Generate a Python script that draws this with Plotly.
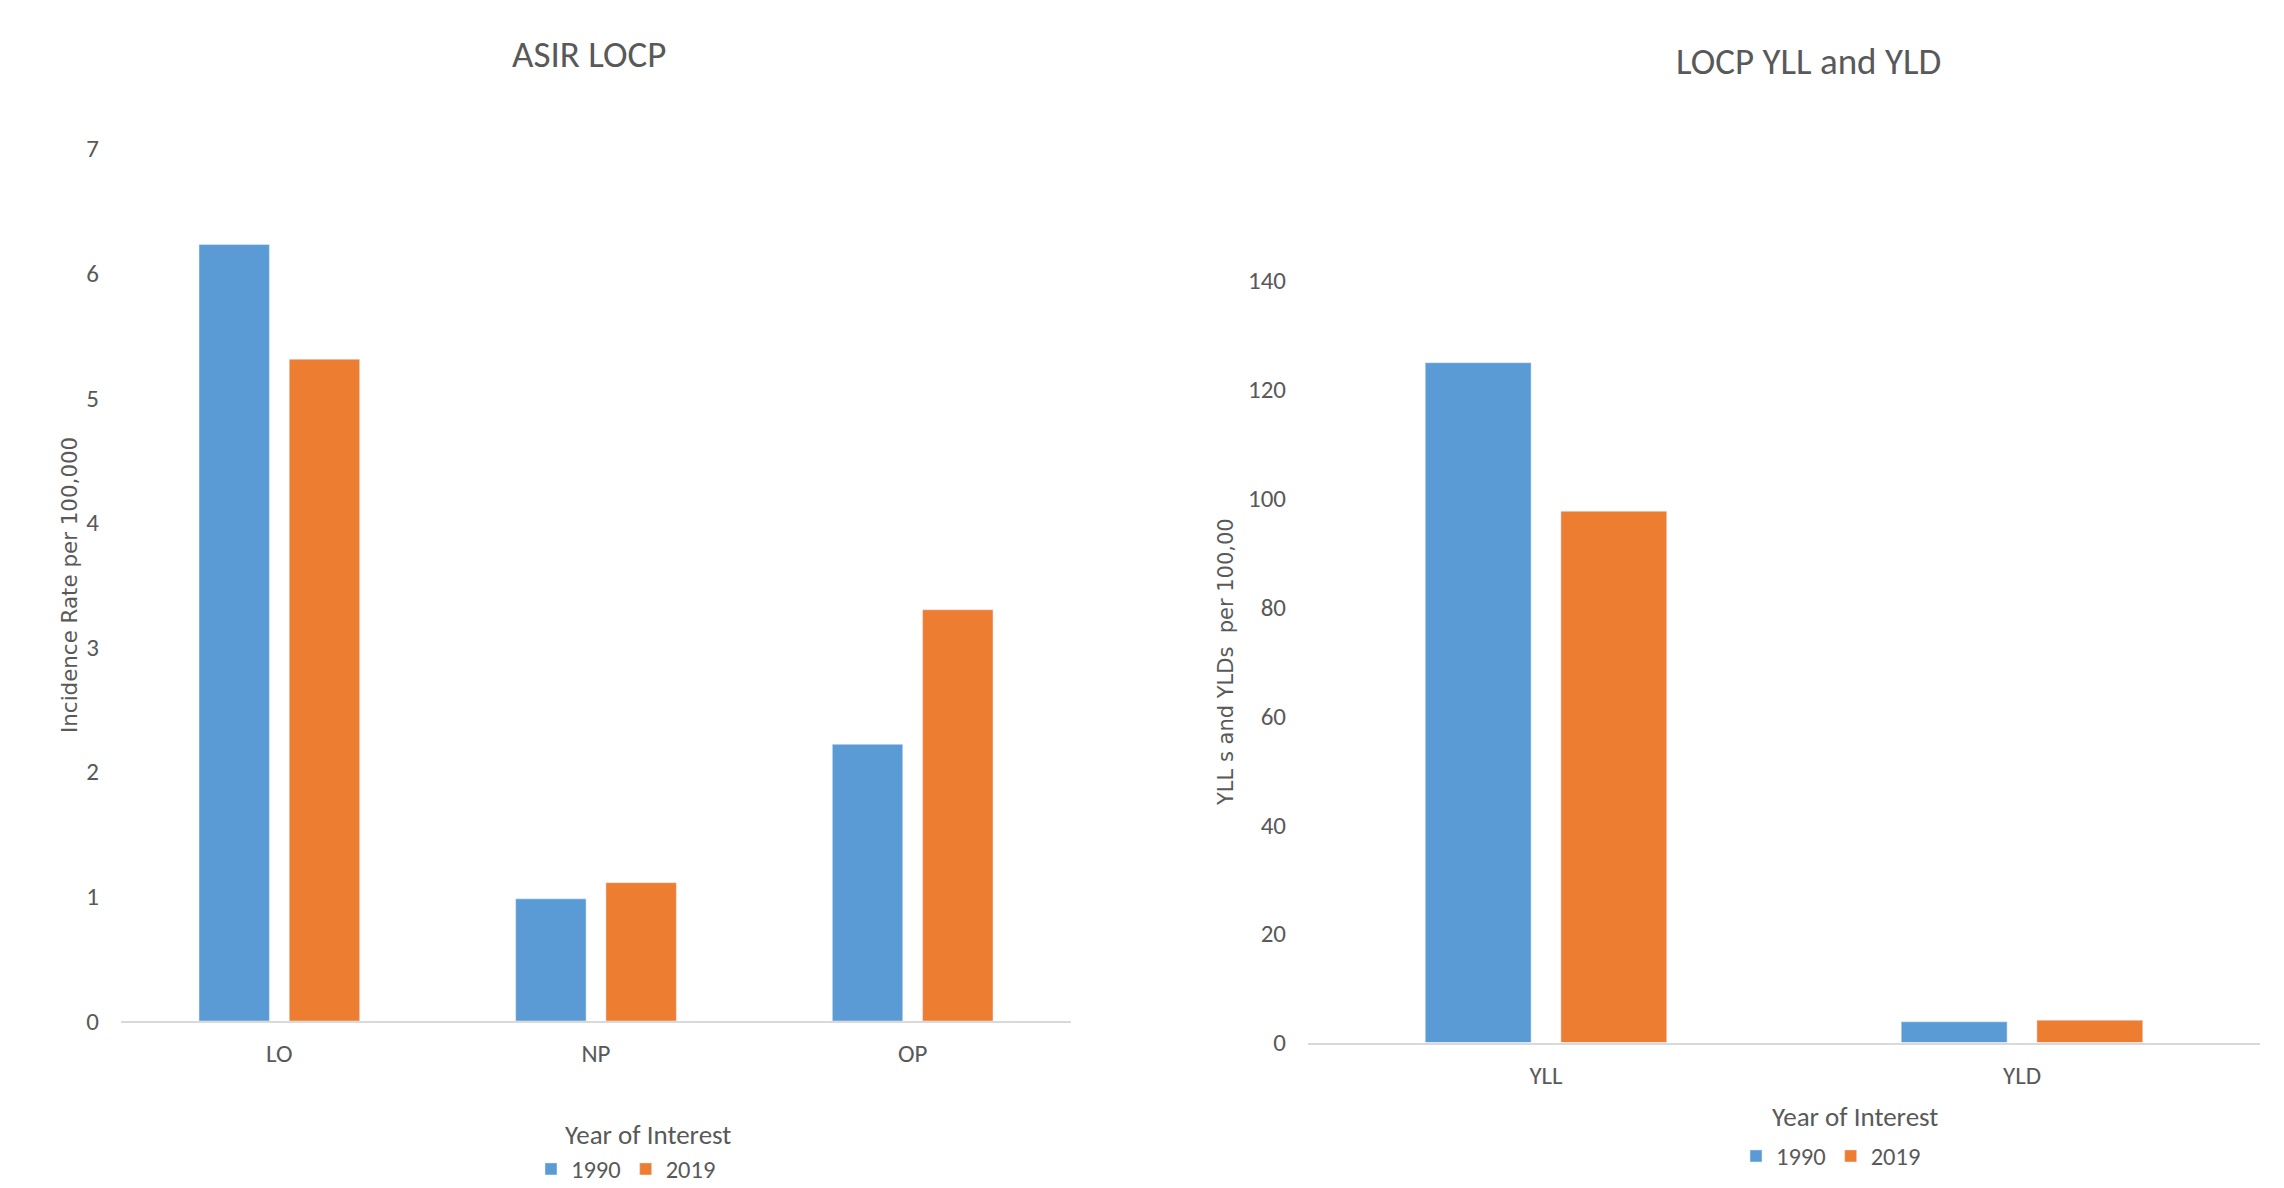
import plotly.graph_objects as go

# ---- data ----
asir_categories = ["LO", "NP", "OP"]
asir_1990 = [6.23, 0.98, 2.22]
asir_2019 = [5.31, 1.11, 3.30]

burden_categories = ["YLL", "YLD"]
burden_1990 = [124.9, 3.8]
burden_2019 = [97.6, 4.1]

series_names = ["1990", "2019"]
asir_ticks = [0, 1, 2, 3, 4, 5, 6, 7]
burden_ticks = [0, 20, 40, 60, 80, 100, 120, 140]

left_title = "ASIR LOCP"
right_title = "LOCP YLL and YLD"
left_ytitle = "Incidence Rate per 100,000"
right_ytitle = "YLL s and YLDs  per 100,00"
xtitle = "Year of Interest"

# ---- styling ----
W, H = 2284, 1188
BLUE = "#5B9BD5"
ORANGE = "#ED7D31"
TEXT = "#595959"
NARROW = "Carlito, DejaVu Sans Condensed, Liberation Sans Narrow, Liberation Sans, sans-serif"
WIDE = "DejaVu Sans, Verdana, sans-serif"


def px(x):
    return x / W


def py(y):
    return 1 - y / H


fig = go.Figure()
fig.add_trace(go.Bar(x=asir_categories, y=asir_1990, name=series_names[0],
                     marker_color=BLUE, xaxis="x", yaxis="y", legend="legend"))
fig.add_trace(go.Bar(x=asir_categories, y=asir_2019, name=series_names[1],
                     marker_color=ORANGE, xaxis="x", yaxis="y", legend="legend"))
fig.add_trace(go.Bar(x=burden_categories, y=burden_1990, name=series_names[0],
                     marker_color=BLUE, xaxis="x2", yaxis="y2", legend="legend2"))
fig.add_trace(go.Bar(x=burden_categories, y=burden_2019, name=series_names[1],
                     marker_color=ORANGE, xaxis="x2", yaxis="y2", legend="legend2"))

tick_font = dict(family=NARROW, size=25, color=TEXT)
xaxis_common = dict(showgrid=False, zeroline=False, showline=True, linecolor="#D9D9D9",
                    linewidth=2, ticks="", tickfont=tick_font, ticklabelstandoff=9,
                    fixedrange=True)
yaxis_common = dict(showgrid=False, zeroline=False, showline=False, ticks="",
                    tickfont=tick_font, ticklabelstandoff=21, fixedrange=True)

legend_common = dict(orientation="h", xanchor="center", yanchor="middle",
                     font=dict(family=NARROW, size=24.5, color=TEXT),
                     bgcolor="rgba(0,0,0,0)", itemwidth=30, tracegroupgap=0)

fig.update_layout(
    width=W, height=H,
    margin=dict(l=0, r=0, t=0, b=0, autoexpand=False),
    paper_bgcolor="white", plot_bgcolor="white",
    barmode="group", bargap=0.43, bargroupgap=0.22,
    xaxis=dict(domain=[px(121), px(1071)], anchor="y", **xaxis_common),
    yaxis=dict(domain=[py(1021), py(148.6)], anchor="x", range=[0, 7],
               tickvals=asir_ticks, **yaxis_common),
    xaxis2=dict(domain=[px(1308), px(2260)], anchor="y2", **xaxis_common),
    yaxis2=dict(domain=[py(1042.5), py(280.5)], anchor="x2", range=[0, 140],
                tickvals=burden_ticks, **yaxis_common),
    legend=dict(x=px(626), y=py(1169), **legend_common),
    legend2=dict(x=px(1831), y=py(1156), **legend_common),
    showlegend=True,
    annotations=[
        dict(text=left_title, x=px(589), y=py(55), xref="paper", yref="paper",
             showarrow=False, xanchor="center", yanchor="middle",
             font=dict(family=NARROW, size=37, color=TEXT)),
        dict(text=right_title, x=px(1808), y=py(61), xref="paper", yref="paper",
             showarrow=False, xanchor="center", yanchor="middle",
             font=dict(family=NARROW, size=37, color=TEXT)),
        dict(text=xtitle, x=px(648), y=py(1134), xref="paper", yref="paper",
             showarrow=False, xanchor="center", yanchor="middle",
             font=dict(family=NARROW, size=27, color=TEXT)),
        dict(text=xtitle, x=px(1855), y=py(1116), xref="paper", yref="paper",
             showarrow=False, xanchor="center", yanchor="middle",
             font=dict(family=NARROW, size=27, color=TEXT)),
        dict(text=left_ytitle, x=px(69), y=py(585), xref="paper", yref="paper",
             showarrow=False, xanchor="center", yanchor="middle", textangle=-90,
             font=dict(family=WIDE, size=21.4, color=TEXT)),
        dict(text=right_ytitle, x=px(1226), y=py(662), xref="paper", yref="paper",
             showarrow=False, xanchor="center", yanchor="middle", textangle=-90,
             font=dict(family=WIDE, size=21, color=TEXT)),
    ],
)

fig.write_html("out.html")
